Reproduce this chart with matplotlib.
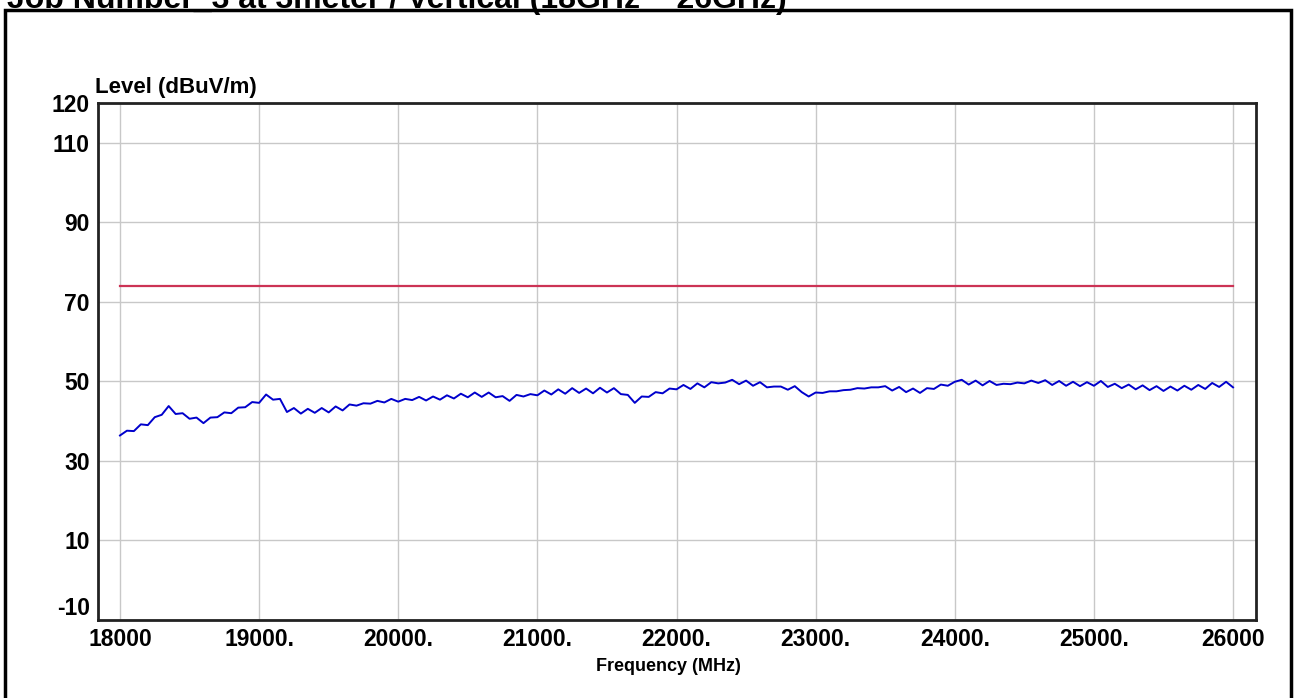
import numpy as np
import matplotlib
matplotlib.use("Agg")
import matplotlib.pyplot as plt
from matplotlib.patches import Rectangle

plt.rcParams["font.family"] = ["Liberation Sans", "DejaVu Sans"]
plt.rcParams["axes.unicode_minus"] = False

# sweep 18 GHz .. 26 GHz, one reading every 50 MHz
freq_start, freq_stop = 18000, 26000
level = [
    36.4, 37.6, 37.5, 39.2, 39.0, 41.0, 41.6, 43.8, 41.8, 42.0,
    40.6, 40.9, 39.5, 40.9, 41.0, 42.2, 42.0, 43.4, 43.5, 44.8,
    44.6, 46.7, 45.4, 45.6, 42.3, 43.3, 41.9, 43.1, 42.1, 43.3,
    42.2, 43.7, 42.7, 44.2, 43.9, 44.5, 44.4, 45.1, 44.7, 45.6,
    44.9, 45.6, 45.3, 46.1, 45.2, 46.2, 45.4, 46.5, 45.7, 46.9,
    46.0, 47.2, 46.1, 47.2, 46.0, 46.3, 45.1, 46.6, 46.2, 46.8,
    46.5, 47.7, 46.7, 48.0, 46.9, 48.3, 47.1, 48.2, 47.0, 48.4,
    47.2, 48.3, 46.8, 46.6, 44.6, 46.2, 46.1, 47.3, 47.0, 48.2,
    48.0, 49.1, 48.1, 49.5, 48.5, 49.8, 49.5, 49.7, 50.4, 49.3,
    50.2, 48.9, 49.8, 48.5, 48.7, 48.7, 47.9, 48.8, 47.3, 46.2,
    47.2, 47.1, 47.5, 47.5, 47.8, 47.9, 48.3, 48.2, 48.5, 48.5,
    48.8, 47.7, 48.6, 47.3, 48.2, 47.1, 48.3, 48.1, 49.2, 48.9,
    49.9, 50.4, 49.2, 50.2, 49.0, 50.1, 49.1, 49.4, 49.3, 49.7,
    49.5, 50.2, 49.6, 50.3, 49.1, 50.1, 48.9, 49.9, 48.8, 49.8,
    48.9, 50.1, 48.6, 49.4, 48.3, 49.2, 48.0, 49.0, 47.8, 48.8,
    47.6, 48.7, 47.7, 48.9, 47.9, 49.1, 48.1, 49.6, 48.6, 49.9,
    48.5,
]
freq = np.linspace(freq_start, freq_stop, len(level))

limit_freq = [18000, 26000]
limit_level = [74, 74]

xticks = [18000, 19000, 20000, 21000, 22000, 23000, 24000, 25000, 26000]
xlabels = ["18000", "19000.", "20000.", "21000.", "22000.", "23000.",
           "24000.", "25000.", "26000"]
yticks = [120, 110, 90, 70, 50, 30, 10, -10]

W, H = 1297, 698
fig = plt.figure(figsize=(W / 100, H / 100), dpi=100)
ax = fig.add_axes([98 / W, 78 / H, 1158 / W, 517 / H])

ax.plot(limit_freq, limit_level, color="#cc3355", lw=1.6, zorder=3)
ax.plot(freq, level, color="#0000cc", lw=1.4, zorder=4)

ax.set_xlim(17842, 26165)
ax.set_ylim(-10, 120)
ax.set_xticks(xticks)
ax.set_xticklabels(xlabels)
ax.set_yticks(yticks)
ax.tick_params(length=0, labelsize=16.5, pad=6)
for t in ax.get_xticklabels() + ax.get_yticklabels():
    t.set_fontweight("bold")
ax.get_yticklabels()[-1].set_verticalalignment("bottom")
ax.grid(True, color="#c8c8c8", lw=1)
ax.set_axisbelow(True)
for s in ax.spines.values():
    s.set_linewidth(2)
    s.set_color("#222222")

ax.set_xlabel("Frequency (MHz)", fontsize=13, fontweight="bold")
ax.xaxis.set_label_coords((668 - 98) / 1158, -38 / 517)
fig.text(95 / W, 1 - 87 / H, "Level (dBuV/m)", fontsize=16, fontweight="bold",
         ha="left", va="center")

# the report header is clipped by the top edge, as in the source scan
fig.text(7 / W, 1 - 8 / H, "Job Number_3 at 3meter / Vertical (18GHz ~ 26GHz)",
         fontsize=23, fontweight="bold", ha="left", va="baseline")

fig.patches.append(Rectangle((5 / W, -0.02), 1286 / W, 1.02 - 10 / H,
                             transform=fig.transFigure, fill=False,
                             lw=2.5, ec="black"))

fig.savefig("out.png", dpi=100)
